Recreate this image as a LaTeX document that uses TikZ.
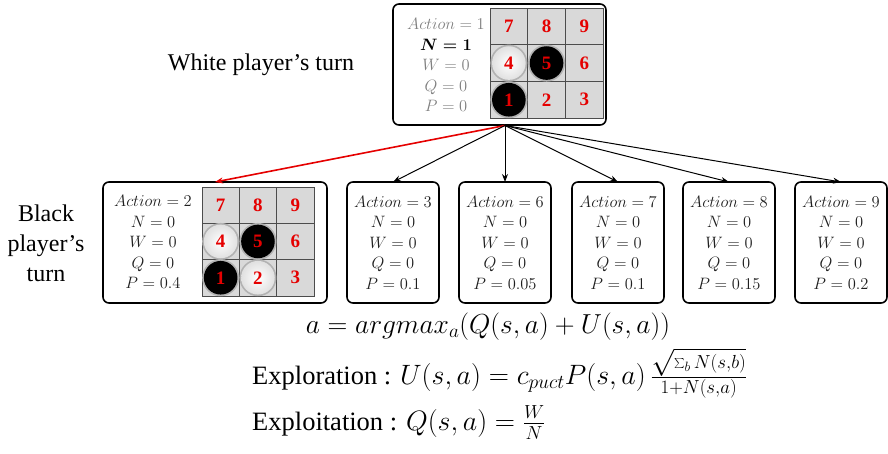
\RequirePackage{fix-cm}
\documentclass[tikz,border=0pt]{standalone}
\usepackage{fontspec}
\setmainfont{Liberation Serif}
\usetikzlibrary{arrows.meta,calc}

% one 3x3 board: #1,#2 = top-left corner, #3 = cell width, #4 = cell height,
% #5 = list of stones as colour/column/row
\newcommand\gameboard[5]{%
  \begin{scope}[shift={(#1,#2)}]
    \foreach \r in {0,1,2}{\foreach \c in {0,1,2}{%
      \draw[cellbox] (\c*#3,\r*#4) rectangle ++(#3,#4);}}
    \foreach \col/\c/\r in {#5}{%
      \fill[black!30] ({(\c+0.5)*#3},{(\r+0.5)*#4}) circle (18.5);
      \ifx\col\blackstone
        \fill[black] ({(\c+0.5)*#3},{(\r+0.5)*#4}) circle (16.8);
      \else
        \shade[inner color=white, outer color=black!12] ({(\c+0.5)*#3},{(\r+0.5)*#4}) circle (16.8);
      \fi}
    \foreach \r in {0,1,2}{\foreach \c in {0,1,2}{%
      \pgfmathtruncatemacro\n{(2-\r)*3+\c+1}%
      \node[cellnum] at ({(\c+0.5)*#3},{(\r+0.5)*#4}) {\n};}}
  \end{scope}}
\def\blackstone{black}

% numerator and denominator of the fractions, set a little larger than usual
\newcommand\fracpart[1]{\mbox{\fontsize{27}{27}\selectfont$\scriptstyle #1$}}

\begin{document}
\begin{tikzpicture}[x=1pt,y=-1pt,
  box/.style={draw=black, line width=1.6pt, rounded corners=6pt, fill=white,
    inner sep=0pt, outer sep=0pt},
  cellbox/.style={draw=black!70, line width=0.8pt, fill=black!15},
  cellnum/.style={text=red!90!black, font=\bfseries\fontsize{19}{19}\selectfont},
  stats/.style={align=center, text=black!88, font=\fontsize{16.5}{20.5}\selectfont},
  leaf/.style={box, stats, minimum width=92pt, minimum height=121pt},
  turn/.style={align=center, font=\fontsize{24}{30}\selectfont},
  formula/.style={inner sep=0pt},
  edge/.style={line width=1pt, -{Stealth[length=8pt,width=6pt]}},
  chosen/.style={edge, line width=1.6pt, draw=red!90!black, -{Stealth[length=8pt,width=6pt]}}
]
\useasboundingbox (0,0) rectangle (888,454);

% root node: white to move
\node[box, minimum width=213pt, minimum height=121pt] (top) at (499.5,64.5) {};
\gameboard{490}{8}{37.7}{36.7}{white/0/1, black/1/1, black/0/2}
\node[stats, text=black!50] (toptext) at (446,65)
  {$Action=1$\\ {\color{black}\boldmath$N=1$}\\ $W=0$\\ $Q=0$\\ $P=0$};
\coordinate (root) at (505,125.5);

% children: black to move
\node[box, minimum width=224pt, minimum height=121pt] (b2) at (215,242.5) {};
\gameboard{202}{187}{37.3}{36.3}{white/0/1, black/1/1, black/0/2, white/1/2}
\node[stats] (b2text) at (153,242)
  {$Action=2$\\ $N=0$\\ $W=0$\\ $Q=0$\\ $P=0.4$};

\node[leaf] (b3) at (393,242.5) {$Action=3$\\ $N=0$\\ $W=0$\\ $Q=0$\\ $P=0.1$};
\node[leaf] (b6) at (505,242.5) {$Action=6$\\ $N=0$\\ $W=0$\\ $Q=0$\\ $P=0.05$};
\node[leaf] (b7) at (618,242.5) {$Action=7$\\ $N=0$\\ $W=0$\\ $Q=0$\\ $P=0.1$};
\node[leaf] (b8) at (729,242.5) {$Action=8$\\ $N=0$\\ $W=0$\\ $Q=0$\\ $P=0.15$};
\node[leaf] (b9) at (841,242.5) {$Action=9$\\ $N=0$\\ $W=0$\\ $Q=0$\\ $P=0.2$};

% edges
\draw[chosen] (root) -- (b2.north);
\foreach \b in {b3,b6,b7,b8,b9}{\draw[edge] (root) -- (\b.north);}

% side labels
\node[turn] (wlab) at (261,65) {White player’s turn};
\node[turn] (blab) at (46,243) {Black\\player’s\\turn};

% selection rule
\node[formula, anchor=base, font=\fontsize{27.5}{30}\selectfont] (f1) at (488,333)
  {$a=argmax_a(Q(s,a)+U(s,a))$};
\node[formula, anchor=base west, font=\fontsize{26.5}{30}\selectfont] (f2) at (252,384)
  {Exploration : {\fontsize{28}{30}\selectfont$U(s,a)=c_{puct}P(s,a)\,
   \frac{\fracpart{\sqrt{\sum_b N(s,b)}}}{\fracpart{1+N(s,a)}}$}};
\node[formula, anchor=base west, font=\fontsize{26.5}{30}\selectfont] (f3) at (252,430)
  {Exploitation : {\fontsize{28}{30}\selectfont$Q(s,a)=\frac{\fracpart{W}}{\fracpart{N}}$}};
\end{tikzpicture}
\end{document}
